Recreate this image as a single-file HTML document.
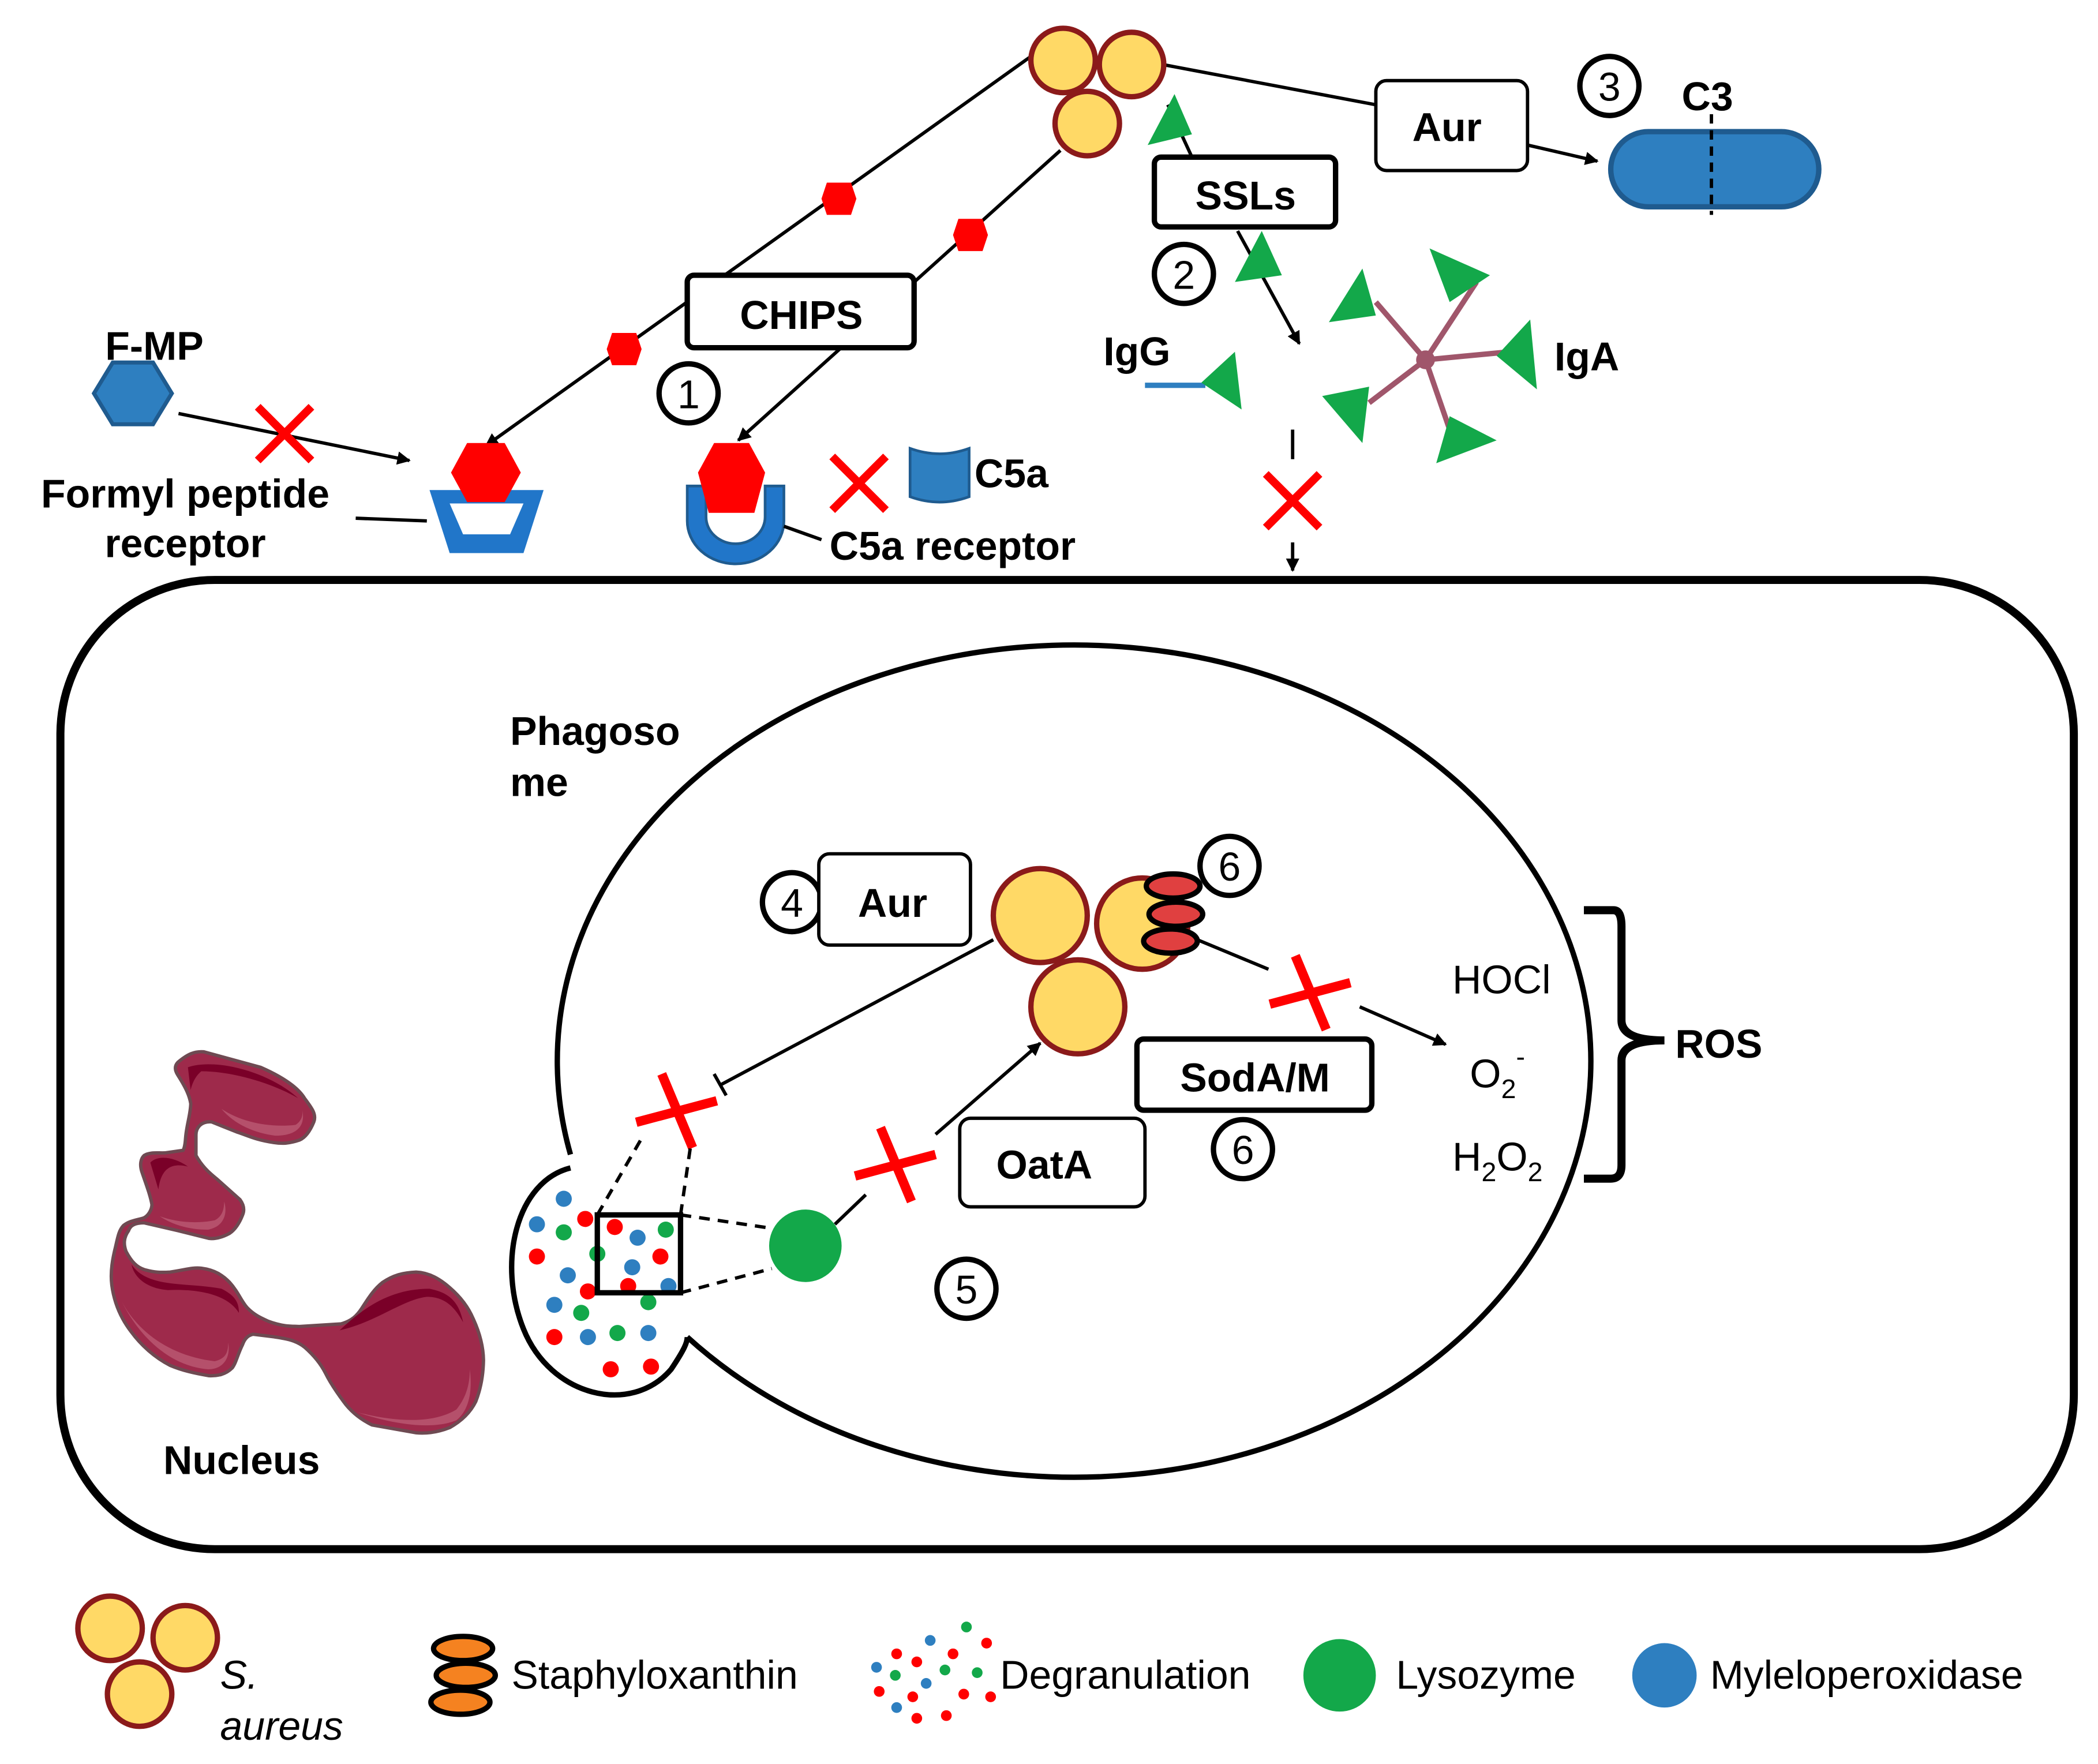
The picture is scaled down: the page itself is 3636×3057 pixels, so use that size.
<!DOCTYPE html>
<html><head><meta charset="utf-8"><style>html,body{margin:0;padding:0;background:#fff}svg{display:block}text{font-family:"Liberation Sans",Arial,sans-serif}</style></head><body>
<svg width="3636" height="3057" viewBox="0 0 1563 1314" xmlns="http://www.w3.org/2000/svg">
<defs>
<marker id="ar" markerWidth="10" markerHeight="10" refX="9" refY="5" orient="auto" markerUnits="userSpaceOnUse" viewBox="0 0 10 10"><path d="M0,0 L10,5 L0,10 z" fill="#000"/></marker>
<g id="bac"><circle r="24" fill="#FFD966" stroke="#8B1A1A" stroke-width="4"/></g>
<g id="hex"><polygon points="-9,-12 9,-12 13,0 9,12 -9,12 -13,0" fill="#f00"/></g>
<g id="xr"><path d="M-20,-20 L20,20 M20,-20 L-20,20" stroke="#f00" stroke-width="6"/></g>
<g id="cr"><path d="M-31,8 L29,-8 M-12,-28 L11,27" stroke="#f00" stroke-width="7"/></g>
</defs>
<rect width="1563" height="1314" fill="#fff"/>
<!-- cell -->
<rect x="45" y="432" width="1500" height="722" rx="115" fill="none" stroke="#000" stroke-width="6"/>
<!-- phagosome -->
<path d="M512,996 A385,310 0 1 0 425,860" fill="#fff" stroke="#000" stroke-width="4"/>
<path d="M425,870 C385,880 370,940 390,990 C410,1040 470,1055 500,1020 C510,1005 512,1000 512,996" fill="#fff" stroke="#000" stroke-width="4"/>
<!-- top bacteria lines -->
<line x1="768" y1="42" x2="362" y2="332" stroke="#000" stroke-width="2.5" marker-end="url(#ar)"/>
<line x1="790" y1="112" x2="550" y2="328" stroke="#000" stroke-width="2.5" marker-end="url(#ar)"/>
<use href="#hex" x="625" y="148"/><use href="#hex" x="723" y="175"/><use href="#hex" x="465" y="260"/>
<line x1="866" y1="48" x2="1025" y2="78" stroke="#000" stroke-width="2.5"/>
<line x1="1138" y1="108" x2="1190" y2="120" stroke="#000" stroke-width="2.5" marker-end="url(#ar)"/>
<line x1="870" y1="78" x2="888" y2="117" stroke="#000" stroke-width="2.5"/>
<line x1="922" y1="172" x2="968" y2="256" stroke="#000" stroke-width="2.5" marker-end="url(#ar)"/>
<use href="#bac" x="792" y="45"/><use href="#bac" x="843" y="48"/><use href="#bac" x="810" y="92"/>
<polygon points="855,108 875,70 888,100" fill="#13A84A"/>
<polygon points="920,210 940,172 955,205" fill="#13A84A"/>
<!-- boxes -->
<rect x="512" y="205" width="169" height="54" rx="5" fill="#fff" stroke="#000" stroke-width="4"/>
<text x="597" y="245" font-size="30" font-weight="bold" text-anchor="middle">CHIPS</text>
<rect x="1025" y="60" width="113" height="67" rx="8" fill="#fff" stroke="#000" stroke-width="2.5"/>
<text x="1078" y="105" font-size="30" font-weight="bold" text-anchor="middle">Aur</text>
<rect x="860" y="117" width="135" height="52" rx="5" fill="#fff" stroke="#000" stroke-width="4"/>
<text x="928" y="156" font-size="30" font-weight="bold" text-anchor="middle">SSLs</text>
<!-- C3 -->
<rect x="1200" y="98" width="155" height="56" rx="28" fill="#2E7FC0" stroke="#1F5B8F" stroke-width="4"/>
<line x1="1275" y1="85" x2="1275" y2="160" stroke="#000" stroke-width="2.5" stroke-dasharray="7,5"/>
<text x="1272" y="82" font-size="30" font-weight="bold" text-anchor="middle">C3</text>
<!-- numbers -->
<g fill="none" stroke="#000" stroke-width="4">
<circle cx="513" cy="293" r="22"/><circle cx="882" cy="204" r="22"/><circle cx="1199" cy="64" r="22"/>
<circle cx="590" cy="672" r="22"/><circle cx="916" cy="645" r="22"/><circle cx="926" cy="856" r="22"/><circle cx="720" cy="960" r="22"/>
</g>
<g font-size="30" text-anchor="middle">
<text x="513" y="304">1</text><text x="882" y="215">2</text><text x="1199" y="75">3</text>
<text x="590" y="683">4</text><text x="916" y="656">6</text><text x="926" y="867">6</text><text x="720" y="971">5</text>
</g>
<!-- F-MP -->
<polygon points="84,270 114,270 128,293 114,316 84,316 70,293" fill="#2E7FC0" stroke="#1F5B8F" stroke-width="3"/>
<text x="115" y="268" font-size="30" font-weight="bold" text-anchor="middle">F-MP</text>
<line x1="133" y1="308" x2="305" y2="343" stroke="#000" stroke-width="2.5" marker-end="url(#ar)"/>
<use href="#xr" x="212" y="323"/>
<polygon points="320,365 405,365 390,412 335,412" fill="#2176C9"/>
<polygon points="335,375 390,375 380,398 345,398" fill="#fff"/>
<polygon points="348,330 376,330 388,352 376,374 348,374 336,352" fill="#f00"/>
<line x1="265" y1="386" x2="318" y2="388" stroke="#000" stroke-width="2.5"/>
<text x="138" y="378" font-size="30" font-weight="bold" text-anchor="middle">Formyl peptide</text>
<text x="138" y="415" font-size="30" font-weight="bold" text-anchor="middle">receptor</text>
<!-- C5a receptor -->
<path d="M512,362 L512,388 A36,32 0 0 0 584,388 L584,362 L570,362 L570,385 A22,20 0 0 1 526,385 L526,362 Z" fill="#2176C9" stroke="#1F5B8F" stroke-width="2"/>
<polygon points="532,330 558,330 570,352 562,382 528,382 520,352" fill="#f00"/>
<line x1="584" y1="392" x2="612" y2="402" stroke="#000" stroke-width="2.5"/>
<text x="618" y="417" font-size="30" font-weight="bold">C5a receptor</text>
<use href="#xr" x="640" y="360"/>
<path d="M678,334 Q700,342 722,334 L722,370 Q700,378 678,370 Z" fill="#2E7FC0" stroke="#1F5B8F" stroke-width="2"/>
<text x="726" y="363" font-size="30" font-weight="bold">C5a</text>
<!-- IgG / IgA -->
<text x="822" y="272" font-size="30" font-weight="bold">IgG</text>
<line x1="853" y1="287" x2="898" y2="287" stroke="#2E7FC0" stroke-width="4"/>
<polygon points="895,285 920,262 925,305" fill="#13A84A"/>
<g stroke="#A0566B" stroke-width="4">
<line x1="1062" y1="268" x2="1025" y2="225"/><line x1="1062" y1="268" x2="1100" y2="210"/><line x1="1062" y1="268" x2="1125" y2="262"/>
<line x1="1062" y1="268" x2="1020" y2="300"/><line x1="1062" y1="268" x2="1080" y2="320"/>
</g>
<circle cx="1062" cy="268" r="7" fill="#A0566B"/>
<polygon points="990,240 1015,200 1025,235" fill="#13A84A"/>
<polygon points="1065,185 1110,205 1080,225" fill="#13A84A"/>
<polygon points="1115,265 1140,238 1145,290" fill="#13A84A"/>
<polygon points="985,295 1020,288 1015,330" fill="#13A84A"/>
<polygon points="1070,345 1080,310 1115,328" fill="#13A84A"/>
<text x="1158" y="276" font-size="30" font-weight="bold">IgA</text>
<line x1="963" y1="320" x2="963" y2="342" stroke="#000" stroke-width="2.5"/>
<use href="#xr" x="963" y="373"/>
<line x1="963" y1="404" x2="963" y2="425" stroke="#000" stroke-width="2.5" marker-end="url(#ar)"/>
<!-- phagosome interior -->
<text x="380" y="555" font-size="30" font-weight="bold">Phagoso</text>
<text x="380" y="593" font-size="30" font-weight="bold">me</text>
<rect x="610" y="636" width="113" height="68" rx="8" fill="#fff" stroke="#000" stroke-width="2.5"/>
<text x="665" y="683" font-size="30" font-weight="bold" text-anchor="middle">Aur</text>
<line x1="740" y1="700" x2="537" y2="808" stroke="#000" stroke-width="2.5"/>
<line x1="532" y1="800" x2="541" y2="816" stroke="#000" stroke-width="2.5"/>
<use href="#cr" x="505" y="828"/>
<g stroke="#8B1A1A" stroke-width="4" fill="#FFD966">
<circle cx="775" cy="682" r="35"/><circle cx="851" cy="688" r="34"/><circle cx="803" cy="750" r="35"/>
</g>
<g fill="#E04040" stroke="#000" stroke-width="4">
<ellipse cx="874" cy="660" rx="20" ry="9"/><ellipse cx="876" cy="681" rx="20" ry="9"/><ellipse cx="872" cy="701" rx="20" ry="9"/>
</g>
<line x1="892" y1="700" x2="945" y2="722" stroke="#000" stroke-width="2.5"/>
<use href="#cr" x="977" y="740"/>
<line x1="1013" y1="750" x2="1077" y2="778" stroke="#000" stroke-width="2.5" marker-end="url(#ar)"/>
<rect x="847" y="774" width="175" height="53" rx="5" fill="#fff" stroke="#000" stroke-width="4"/>
<text x="935" y="813" font-size="30" font-weight="bold" text-anchor="middle">SodA/M</text>
<text x="1082" y="740" font-size="30">HOCl</text>
<text x="1095" y="810" font-size="30">O<tspan font-size="20" dy="8">2</tspan><tspan font-size="20" dy="-24">-</tspan></text>
<text x="1082" y="872" font-size="30">H<tspan font-size="20" dy="8">2</tspan><tspan dy="-8">O</tspan><tspan font-size="20" dy="8">2</tspan></text>
<path d="M1180,678 L1202,678 Q1208,678 1208,690 L1208,760 Q1208,775 1240,775 Q1208,775 1208,790 L1208,868 Q1208,878 1200,878 L1180,878" fill="none" stroke="#000" stroke-width="6"/>
<text x="1248" y="788" font-size="30" font-weight="bold">ROS</text>
<!-- lysozyme -->
<circle cx="600" cy="928" r="27" fill="#13A84A"/>
<line x1="622" y1="912" x2="645" y2="890" stroke="#000" stroke-width="2.5"/>
<use href="#cr" x="668" y="868"/>
<line x1="697" y1="845" x2="775" y2="777" stroke="#000" stroke-width="2.5" marker-end="url(#ar)"/>
<rect x="715" y="833" width="138" height="66" rx="8" fill="#fff" stroke="#000" stroke-width="2.5"/>
<text x="778" y="878" font-size="30" font-weight="bold" text-anchor="middle">OatA</text>
<!-- granules -->
<g>
<circle cx="420" cy="893" r="6" fill="#2E7FC0"/><circle cx="400" cy="912" r="6" fill="#2E7FC0"/><circle cx="436" cy="908" r="6" fill="#f00"/>
<circle cx="420" cy="918" r="6" fill="#13A84A"/><circle cx="458" cy="914" r="6" fill="#f00"/><circle cx="475" cy="922" r="6" fill="#2E7FC0"/>
<circle cx="496" cy="916" r="6" fill="#13A84A"/><circle cx="400" cy="936" r="6" fill="#f00"/><circle cx="445" cy="934" r="6" fill="#13A84A"/>
<circle cx="492" cy="936" r="6" fill="#f00"/><circle cx="423" cy="950" r="6" fill="#2E7FC0"/><circle cx="471" cy="944" r="6" fill="#2E7FC0"/>
<circle cx="438" cy="962" r="6" fill="#f00"/><circle cx="468" cy="958" r="6" fill="#f00"/><circle cx="498" cy="958" r="6" fill="#2E7FC0"/>
<circle cx="413" cy="972" r="6" fill="#2E7FC0"/><circle cx="433" cy="978" r="6" fill="#13A84A"/><circle cx="483" cy="970" r="6" fill="#13A84A"/>
<circle cx="413" cy="996" r="6" fill="#f00"/><circle cx="438" cy="996" r="6" fill="#2E7FC0"/><circle cx="460" cy="993" r="6" fill="#13A84A"/>
<circle cx="483" cy="993" r="6" fill="#2E7FC0"/><circle cx="455" cy="1020" r="6" fill="#f00"/><circle cx="485" cy="1018" r="6" fill="#f00"/>
</g>
<rect x="445" y="905" width="62" height="58" fill="none" stroke="#000" stroke-width="4"/>
<g stroke="#000" stroke-width="2.5" stroke-dasharray="8,6">
<line x1="507" y1="905" x2="575" y2="915"/><line x1="507" y1="963" x2="575" y2="945"/>
<line x1="445" y1="905" x2="478" y2="848"/><line x1="507" y1="905" x2="515" y2="850"/>
</g>
<!-- nucleus -->
<path d="M132.5,791.3 C140,785 145,783 151.8,783.5 L194.3,795.1 C210,802 222,810 227,818.3 C232,825 236,830 233.8,835.7 C230,845 226,848 223.2,849.2 C215,852 210,852 203.9,851.1 C190,849 185,846 176.9,843.4 L157.6,835.7 C150,835 146,840 146,845.3 L146,860.7 C150,868 155,873 161.4,878.1 L178.8,893.6 C182,898 182,902 180.7,905.1 C178,912 175,916 171.1,918.7 C165,922 160,923 155.7,922.5 L132.5,916.7 L107.4,910.9 C100,911 97,913 95.8,916.7 C92,922 92,927 93.9,932.2 C98,940 102,944 107.4,945.7 C115,948 120,948 126.7,947.6 C138,946 143,944 149.9,944.7 C160,946 166,950 171.1,955.3 C178,963 180,970 184.6,974.6 C190,980 195,982 200,984.3 C210,988 216,988 223.2,988.1 L254,986.2 C262,984 266,980 269.5,974.6 C275,966 279,960 285,955.3 C293,950 300,948 310,947.6 C320,948 328,953 335.1,959.2 C343,966 349,974 352.5,982.3 C357,992 360,1002 360.2,1013.2 C360,1025 358,1035 354.4,1044.1 C350,1053 343,1059 335.1,1063.4 C326,1067 318,1068 310,1067.3 L277.2,1061.5 C268,1057 261,1051 256,1044.1 C250,1036 246,1030 242.5,1022.9 C238,1014 232,1008 227,1003.6 C220,998 212,997 203.9,995.8 L188.5,993.9 C184,995 182,998 180.7,1001.6 C177,1009 176,1015 173,1019 C168,1024 162,1025 155.7,1024.8 C145,1023 136,1021 126.7,1017.1 C115,1011 105,1002 97.7,992 C90,982 85,970 83.3,957.3 C82,947 84,937 86.2,928.3 C88,920 89,916 92,912.9 C97,909 102,909 107.4,907.1 C111,905 113,901 113.2,897.4 C112,890 108,880 105.5,872.3 C104,867 105,863 107.4,860.7 C112,858 117,859 122.8,858.8 L136.4,856.9 C138,854 138,850 138.3,847.2 C139,838 142,830 142.1,822.1 C141,815 137,808 132.5,800.9 C130,797 130,794 132.5,791.3 Z" fill="#9E2A4B" stroke="#6E4A52" stroke-width="2.5"/>
<path d="M140,795 C160,788 200,798 222,818 C205,808 175,798 150,798 C145,802 143,808 142,812 Z" fill="#7A0028"/>
<path d="M165,826 C180,836 200,840 220,838 C225,835 226,830 225,826 C228,838 222,846 205,846 C190,844 175,838 165,826 Z" fill="#B5506B"/>
<path d="M112,866 C118,860 130,862 140,869 C128,866 120,870 118,886 Z" fill="#7A0028"/>
<path d="M119,906 C130,910 145,912 160,909 C166,906 167,900 167,895 C170,905 166,914 155,916 C140,916 128,912 119,906 Z" fill="#B5506B"/>
<path d="M98,942 C110,960 140,955 165,960 C175,965 178,970 178,978 C170,965 150,960 125,961 C110,960 100,952 98,942 Z" fill="#7A0028"/>
<path d="M89,966 C100,990 125,1010 160,1014 C168,1012 170,1008 170,1000 C172,1012 166,1020 155,1020 C130,1018 105,1000 89,966 Z" fill="#B5506B"/>
<path d="M253,991 C270,975 290,960 320,960 C335,963 342,970 345,985 C338,972 330,966 318,966 C300,968 280,985 253,991 Z" fill="#7A0028"/>
<path d="M266,1052 C290,1058 320,1062 340,1050 C348,1040 350,1030 350,1020 C352,1035 350,1050 340,1058 C320,1066 290,1060 266,1052 Z" fill="#B5506B"/>
<text x="180" y="1098" font-size="30" font-weight="bold" text-anchor="middle">Nucleus</text>
<!-- legend -->
<use href="#bac" x="82" y="1213"/><use href="#bac" x="138" y="1220"/><use href="#bac" x="104" y="1262"/>
<text x="164" y="1258" font-size="30" font-style="italic">S.</text>
<text x="164" y="1296" font-size="30" font-style="italic">aureus</text>
<g fill="#F58220" stroke="#000" stroke-width="4">
<ellipse cx="345" cy="1228" rx="22" ry="9"/><ellipse cx="347" cy="1248" rx="22" ry="9"/><ellipse cx="343" cy="1268" rx="22" ry="9"/>
</g>
<text x="381" y="1258" font-size="30">Staphyloxanthin</text>
<g>
<circle cx="720" cy="1212" r="4" fill="#13A84A"/><circle cx="693" cy="1222" r="4" fill="#2E7FC0"/><circle cx="735" cy="1224" r="4" fill="#f00"/>
<circle cx="668" cy="1232" r="4" fill="#f00"/><circle cx="710" cy="1232" r="4" fill="#f00"/><circle cx="653" cy="1242" r="4" fill="#2E7FC0"/>
<circle cx="683" cy="1238" r="4" fill="#f00"/><circle cx="704" cy="1244" r="4" fill="#13A84A"/><circle cx="728" cy="1246" r="4" fill="#13A84A"/>
<circle cx="667" cy="1248" r="4" fill="#13A84A"/><circle cx="690" cy="1254" r="4" fill="#2E7FC0"/><circle cx="655" cy="1260" r="4" fill="#f00"/>
<circle cx="718" cy="1262" r="4" fill="#f00"/><circle cx="680" cy="1264" r="4" fill="#f00"/><circle cx="668" cy="1272" r="4" fill="#2E7FC0"/>
<circle cx="738" cy="1264" r="4" fill="#f00"/><circle cx="683" cy="1280" r="4" fill="#f00"/><circle cx="705" cy="1278" r="4" fill="#f00"/>
</g>
<text x="745" y="1258" font-size="30">Degranulation</text>
<circle cx="998" cy="1248" r="27" fill="#13A84A"/>
<text x="1040" y="1258" font-size="30">Lysozyme</text>
<circle cx="1240" cy="1248" r="24" fill="#2E7FC0"/>
<text x="1274" y="1258" font-size="30">Myleloperoxidase</text>
</svg>
</body></html>
